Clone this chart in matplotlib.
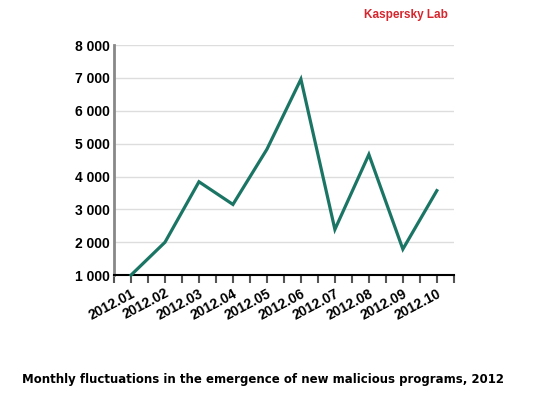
import numpy as np
import matplotlib.pyplot as plt

months = ['2012.01', '2012.02', '2012.03', '2012.04', '2012.05',
          '2012.06', '2012.07', '2012.08', '2012.09', '2012.10']
new_programs = [1000, 2000, 3840, 3150, 4830, 6960, 2390, 4670, 1790, 3570]
y_ticks = [1000, 2000, 3000, 4000, 5000, 6000, 7000, 8000]

fig = plt.figure(figsize=(5.36, 3.97), dpi=100)
ax = fig.add_axes([0.2127, 0.307, 0.634, 0.5796])

x = np.arange(len(months))
ax.plot(x, new_programs, color='#1b7564', linewidth=2.3, solid_joinstyle='miter', clip_on=False, zorder=3)

ax.set_xlim(-0.5, len(months) - 0.5)
ax.set_ylim(1000, 8000)
ax.set_yticks(y_ticks)
ax.set_yticklabels([f'{v:,}'.replace(',', ' ') for v in y_ticks],
                   fontfamily='Liberation Sans', fontweight='bold', fontsize=10)
ax.grid(axis='y', color='#dddddd', linewidth=1)
ax.set_axisbelow(True)

# ticks at centres and boundaries of each month
ax.set_xticks(np.arange(-0.5, len(months), 0.5), minor=True)
ax.set_xticks(x)
ax.set_xticklabels(months, rotation=28, ha='right', rotation_mode='anchor',
                   fontfamily='Liberation Sans', fontweight='bold', fontsize=10)
ax.tick_params(axis='x', which='both', length=6, width=1.5, color='#555555', direction='out', pad=2)
ax.tick_params(axis='y', length=0, pad=3)

for s in ['top', 'right']:
    ax.spines[s].set_visible(False)
ax.spines['left'].set_color('#888888')
ax.spines['left'].set_linewidth(2)
ax.spines['bottom'].set_color('black')
ax.spines['bottom'].set_linewidth(1.5)

fig.text(0.757, 0.962, 'Kaspersky Lab', color='#d6262e', fontfamily='Liberation Sans',
         fontweight='bold', fontsize=8.5, ha='center', va='center')
fig.text(0.4916, 0.043, 'Monthly fluctuations in the emergence of new malicious programs, 2012',
         fontfamily='DejaVu Sans', fontweight='bold', fontsize=8.5, ha='center', va='center')

plt.savefig('out.png', dpi=100)
